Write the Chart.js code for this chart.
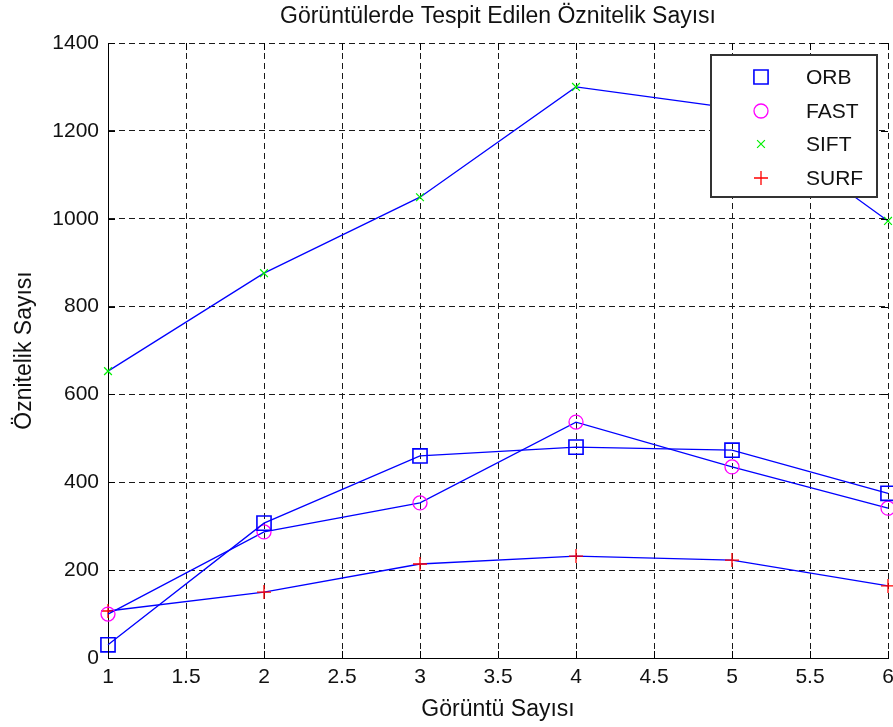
<!DOCTYPE html>
<html><head><meta charset="utf-8">
<script src="https://cdn.jsdelivr.net/npm/chart.js@4/dist/chart.umd.min.js"></script>
<style>html,body{margin:0;padding:0;background:#fff;}</style>
</head><body>
<canvas id="c" width="893" height="727"></canvas>
<script>
const xValues = [1, 2, 3, 4, 5, 6];
const orbValues = [30, 307, 460, 480, 473, 375];
const fastValues = [100, 287, 353, 537, 435, 341];
const siftValues = [653, 876, 1049, 1300, 1252, 995];
const surfValues = [107, 150, 214, 232, 223, 164];
const seriesNames = ['ORB', 'FAST', 'SIFT', 'SURF'];
const xTickValues = [1, 1.5, 2, 2.5, 3, 3.5, 4, 4.5, 5, 5.5, 6];
const yTickValues = [0, 200, 400, 600, 800, 1000, 1200, 1400];
const chartTitle = 'Görüntülerde Tespit Edilen Öznitelik Sayısı';
const xTitle = 'Görüntü Sayısı';
const yTitle = 'Öznitelik Sayısı';

const FONT = "'Liberation Sans', Arial, Helvetica, sans-serif";
Chart.defaults.font.family = FONT;
Chart.defaults.color = '#000';

const markerStyles = [
  {style: 'rect', color: '#0000ff', radius: 10, width: 1.6},
  {style: 'circle', color: '#ff00ff', radius: 7, width: 1.3},
  {style: 'crossRot', color: '#00f000', radius: 5.5, width: 1.2},
  {style: 'cross', color: '#ff0000', radius: 7, width: 1.3}
];
const seriesValues = [orbValues, fastValues, siftValues, surfValues];

const datasets = seriesNames.map((name, i) => ({
  label: name,
  data: xValues.map((x, j) => ({x: x, y: seriesValues[i][j]})),
  borderColor: '#0000ff',
  borderWidth: 1.3,
  backgroundColor: 'transparent',
  pointStyle: markerStyles[i].style,
  pointRadius: markerStyles[i].radius,
  pointHoverRadius: markerStyles[i].radius,
  pointBorderColor: markerStyles[i].color,
  pointBackgroundColor: 'rgba(0,0,0,0)',
  pointBorderWidth: markerStyles[i].width,
  tension: 0,
  fill: false,
  clip: false
}));

function drawMarker(ctx, m, x, y) {
  ctx.save();
  ctx.strokeStyle = m.color;
  ctx.lineWidth = m.width;
  ctx.beginPath();
  if (m.style === 'rect') {
    const s = m.radius * Math.SQRT1_2;
    ctx.rect(x - s, y - s, 2 * s, 2 * s);
  } else if (m.style === 'circle') {
    ctx.arc(x, y, m.radius, 0, Math.PI * 2);
  } else if (m.style === 'crossRot') {
    const s = m.radius * Math.SQRT1_2;
    ctx.moveTo(x - s, y - s); ctx.lineTo(x + s, y + s);
    ctx.moveTo(x + s, y - s); ctx.lineTo(x - s, y + s);
  } else {
    ctx.moveTo(x - m.radius, y); ctx.lineTo(x + m.radius, y);
    ctx.moveTo(x, y - m.radius); ctx.lineTo(x, y + m.radius);
  }
  ctx.stroke();
  ctx.restore();
}

const framePlugin = {
  id: 'frame',
  afterDatasetsDraw(chart) {
    const {ctx, chartArea: {left, right, top, bottom}, scales: {x, y}} = chart;
    ctx.save();
    ctx.strokeStyle = '#000';
    ctx.lineWidth = 1;
    ctx.setLineDash([]);
    ctx.beginPath();
    const tl = 7;
    x.ticks.forEach(t => {
      const px = Math.round(x.getPixelForValue(t.value)) + 0.5;
      ctx.moveTo(px, bottom); ctx.lineTo(px, bottom - tl);
      ctx.moveTo(px, top); ctx.lineTo(px, top + tl);
    });
    y.ticks.forEach(t => {
      const py = Math.round(y.getPixelForValue(t.value)) + 0.5;
      ctx.moveTo(left, py); ctx.lineTo(left + tl, py);
      ctx.moveTo(right, py); ctx.lineTo(right - tl, py);
    });
    ctx.stroke();
    // legend
    const lx = 711, ly = 55, lw = 166, lh = 142;
    ctx.fillStyle = '#fff';
    ctx.fillRect(lx, ly, lw, lh);
    ctx.strokeStyle = '#333';
    ctx.lineWidth = 2;
    ctx.strokeRect(lx, ly, lw, lh);
    const rows = [77, 111, 144, 178];
    ctx.font = '21px ' + FONT;
    ctx.fillStyle = '#111';
    ctx.textBaseline = 'middle';
    ctx.textAlign = 'left';
    chart.data.datasets.forEach((ds, i) => {
      drawMarker(ctx, markerStyles[i], 761, rows[i]);
      ctx.fillText(ds.label, 806, rows[i] + 1);
    });
    ctx.restore();
  }
};

const noPadding = () => ({left: 0, top: 0, right: 0, bottom: 0});

new Chart(document.getElementById('c'), {
  type: 'line',
  data: {datasets: datasets},
  plugins: [framePlugin],
  options: {
    responsive: false,
    animation: false,
    events: [],
    layout: {autoPadding: false, padding: {left: 0, right: 5, top: 0, bottom: 0}},
    plugins: {
      legend: {display: false},
      tooltip: {enabled: false},
      title: {
        display: true,
        text: chartTitle,
        fullSize: false,
        color: '#111',
        font: {size: 23, weight: 'normal', family: FONT},
        padding: {top: 3.2, bottom: 12.2}
      }
    },
    scales: {
      x: {
        type: 'linear',
        min: 1, max: 6,
        afterBuildTicks(scale) { scale.ticks = xTickValues.map(v => ({value: v})); },
        afterFit(scale) {
          scale.height = 69;
          scale.paddingLeft = 0; scale.paddingRight = 0;
          scale.getPadding = noPadding;
        },
        ticks: {
          padding: 7,
          color: '#111',
          font: {size: 21},
          maxRotation: 0,
          autoSkip: false,
          callback: v => String(v)
        },
        grid: {color: '#1a1a1a', lineWidth: 1, drawTicks: false},
        border: {display: true, color: '#000', width: 1, dash: [6, 4]},
        title: {
          display: true, text: xTitle, color: '#111',
          font: {size: 23, family: FONT},
          padding: {top: 0, bottom: 4}
        }
      },
      y: {
        type: 'linear',
        min: 0, max: 1400,
        afterBuildTicks(scale) { scale.ticks = yTickValues.map(v => ({value: v})); },
        afterFit(scale) {
          scale.width = 108;
          scale.paddingTop = 0; scale.paddingBottom = 0;
          scale.getPadding = noPadding;
        },
        ticks: {
          padding: 9,
          color: '#111',
          font: {size: 21},
          autoSkip: false,
          callback: v => String(v)
        },
        grid: {color: '#1a1a1a', lineWidth: 1, drawTicks: false},
        border: {display: true, color: '#000', width: 1, dash: [6, 4]},
        title: {
          display: true, text: yTitle, color: '#111',
          font: {size: 23, family: FONT},
          padding: {top: 11, bottom: 11}
        }
      }
    }
  }
});
</script>
</body></html>
